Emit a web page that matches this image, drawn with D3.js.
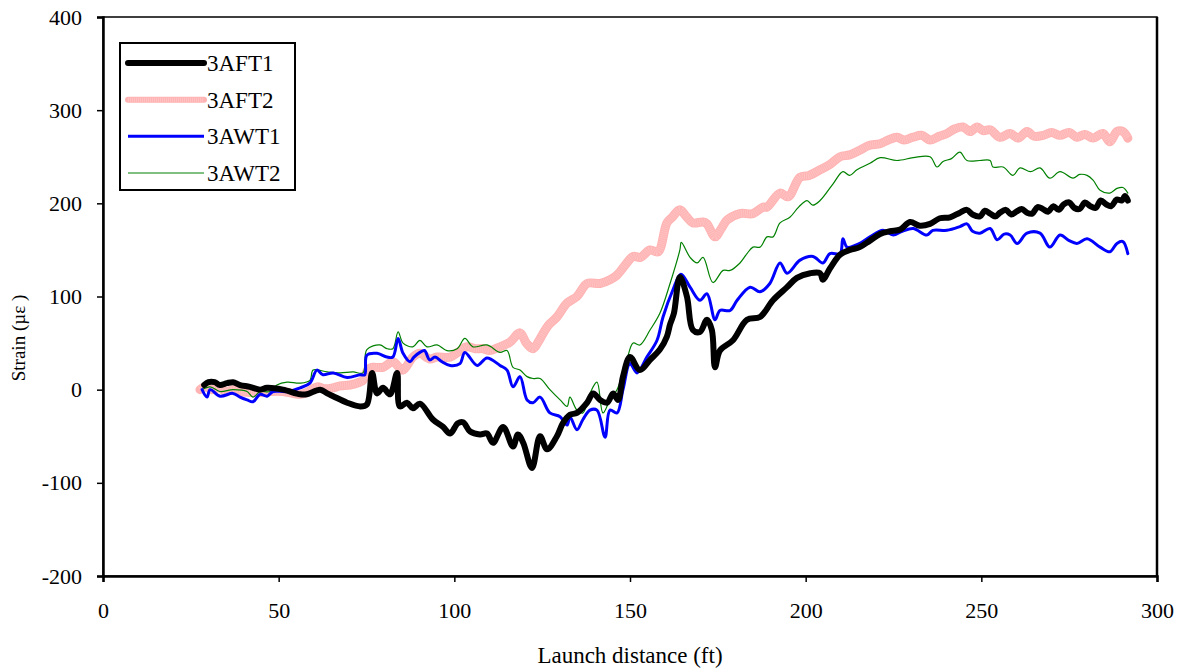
<!DOCTYPE html>
<html><head><meta charset="utf-8">
<script src="https://cdn.jsdelivr.net/npm/d3@7"></script>
<style>body{margin:0;background:#fff}svg{display:block}svg text{font-family:"Liberation Serif","Times New Roman",serif !important;fill:#000}</style>
</head><body><svg id="c" width="1184" height="670"></svg>
<script>
const xTicks=[0,50,100,150,200,250,300];
const yTicks=[-200,-100,0,100,200,300,400];
const seriesNames=["3AFT1","3AFT2","3AWT1","3AWT2"];

const aft1X=[28.8,30,31.8,33.3,35.3,37,39,41.8,44.7,46.7,51.2,56.1,58,61.8,63.8,65.5,69.5,73.2,75.1,76.6,78,79.7,81.7,83.7,84.5,86.5,88.2,90.2,93.9,96.8,98.8,101,102.5,104.5,107.3,109.3,111,113.9,116.7,118.1,119.6,122.1,124.4,126.4,129.2,130.9,132.9,134.9,137.8,139.5,141.5,143.5,145.2,146.6,148,150,152.8,155.7,158.5,160.5,161.4,162.5,164.2,166.2,167.9,169.9,171.9,173.3,174.2,175.6,179.3,183.3,187,190.7,194.7,197.5,201.3,204.1,204.9,206.9,209.8,212.6,215.4,218.3,221.2,224,226.9,229.7,232.5,235.4,238.2,241.1,243.9,245.9,247.5,249.6,251,252.5,254,255.3,257,258.5,260,261.5,263,264.5,266,267.5,269,270.5,272,273.5,275,276.5,278,279.5,281,282.5,284,285.5,287,288.5,290,290.9,291.7];
const aft1Y=[5,8,8,5,7,8,5,3,0,2,0,-5,-5,0,-4,-7,-14,-18,-16,18,-4,2,-5,18,-18,-14,-20,-15,-32,-40,-47,-36,-35,-45,-48,-47,-57,-40,-61,-48,-57,-84,-50,-64,-50,-36,-27,-25,-14,-4,-11,-14,-4,-11,14,35,21,32,43,57,70,82,121,100,64,62,75,64,24,42,53,75,78,96,110,120,125,125,118,130,145,150,153,160,167,170,172,180,176,178,184,185,190,193,188,186,192,189,186,190,193,188,191,194,190,189,196,194,191,197,193,199,201,195,194,201,197,195,203,199,197,204,203,208,203];

const aft2X=[27.6,29,31,33,35,37,39,41.8,44.7,47.5,51.2,56.1,58,60.9,63,65.5,67.5,70.3,73,74,75.5,76.5,79.7,82.5,84,85.4,88.2,90.2,93,95,98.8,101,103.6,106,108.2,110,113,115.8,118.7,120.5,122.4,124,125.2,127,129.2,132.1,134.9,137.8,141.5,144.3,146.3,149.1,150.9,153,155.7,158,160.5,162,164.2,166,167.9,170.8,171.9,174.2,176,177.6,181.3,185,187.9,189,192.7,195,198.4,201,204.1,207,209.8,212.5,215.4,218,221.2,223.5,226,228,230.6,233,235.4,238,240.2,242.5,244.8,246.8,248.8,250.5,252.5,255.3,258.2,260.5,263,265,267.6,270,272.4,275,277.2,279.5,281.8,284.6,286.6,288.6,290.3,291.7];
const aft2Y=[0,3,0,2,-2,0,-2,-3,-3,-2,-2,-5,-3,3,1,2,4,5,8,10,22,24,24,30,25,21,35,39,33,35,35,40,46,44,44,42,46,51,61,50,44,52,60,70,78,93,100,114,114,118,123,136,143,142,150,148,179,185,193,186,179,180,178,164,173,182,189,189,196,196,211,207,228,230,236,242,250,252,257,262,264,268,271,268,271,273,268,272,275,280,282,277,282,278,279,271,275,270,277,272,273,276,273,276,271,274,270,275,266,277,277,270];

const awt1X=[28.2,29.6,30.5,33.3,37,39,41,42.7,44.7,46.7,48.4,52.4,56.1,58.9,60.9,62.6,65.5,69.5,73.2,74.5,75.1,78,80.8,82.5,84,85.4,87.4,88.5,90.2,91.5,93,94.5,96.5,98.8,101.6,103,106.5,109.3,113,115,116.7,118.7,120.7,122.4,124.4,127.2,130.1,132.1,132.9,134.9,136.6,138.6,140.6,142.9,144.3,146.3,148,150,152,154.8,157.7,159.4,162.2,164.5,167.1,169.9,171.9,174.2,175.6,178.5,180.5,184.2,187,189.8,192.7,194.7,198.4,202.1,204.9,206.9,209.8,210.6,211.8,215.4,218.3,222,224.9,227.5,230.6,234.5,236.2,240.2,243.9,245.9,247.5,249.6,252.5,254.5,256.5,258.2,260.2,263,266.7,269.5,272.4,275,277.2,280.1,283.8,286.6,288.6,290.3,291.7];
const awt1Y=[0,-8,0,-7,-4,-8,-11,-13,-5,-7,-2,-2,2,7,21,16,18,13,16,16,37,39,35,35,55,39,30,35,40,42,32,35,30,26,28,40,26,34,26,21,3,14,-11,-14,-8,-25,-29,-38,-29,-43,-32,-22,-22,-51,-22,-25,0,28,18,35,53,78,107,124,110,96,103,75,85,85,96,110,105,114,136,125,139,143,136,146,146,162,153,157,164,171,166,170,173,166,171,171,175,178,170,168,173,161,167,166,157,168,168,153,166,160,157,162,153,148,157,159,146];

const awt2X=[28.2,30.5,33.3,37,41,42.7,44.7,47.5,49.5,52.4,56.1,58.9,59.8,63.8,67.5,71.2,74,75.1,78.8,80.8,82.5,84,85.4,88.2,90.2,92.2,95.1,97.9,100.8,103,105.3,109.3,113,115,116.7,118.7,120.7,122.4,124.4,127.2,130.1,132.1,132.9,134.9,136.6,138.6,140.6,142.3,144.3,146.3,149.1,150.9,152.8,155.7,158.5,161.4,164.2,164.6,167.1,169.1,170.8,173.6,176.5,178.5,181.3,183.3,185,187,189,190.7,192.7,195.5,198,200.4,202,204.1,207.8,210.6,212.5,214.6,218.3,221.2,226,230.6,235.4,237.4,239.1,241.5,243.9,245.9,249.6,252.5,253.3,256.2,259,261,264,266.7,269.5,272.4,276.1,278,280.1,281.8,283.8,286.6,288.6,290.3,291.7];
const awt2Y=[0,3,-2,0,-2,-8,-2,-2,5,8,7,10,21,19,18,19,18,43,48,44,44,62,50,46,53,46,48,42,44,55,46,48,40,42,24,21,14,12,12,0,-11,-18,-8,-22,-25,-4,8,-25,-11,0,32,50,48,64,82,114,150,158,142,136,142,115,128,128,136,146,153,153,164,164,179,185,196,203,198,203,221,234,230,236,243,249,246,249,250,239,245,248,255,246,246,246,239,239,230,238,234,238,227,234,227,231,230,225,214,211,216,217,211];

const FONT='"Liberation Serif","Times New Roman",serif';
const m={l:103,r:1157,t:17,b:576};
const svg=d3.select("#c");
const x=d3.scaleLinear().domain([0,300]).range([m.l,m.r]);
const y=d3.scaleLinear().domain([-200,400]).range([m.b,m.t]);

svg.append("rect").attr("x",m.l).attr("y",m.t).attr("width",m.r-m.l).attr("height",m.b-m.t)
  .attr("fill","none").attr("stroke","#000").attr("stroke-width",1.5);
svg.append("line").attr("x1",m.r).attr("x2",m.r).attr("y1",m.t).attr("y2",m.b).attr("stroke","#000").attr("stroke-width",2.5);

const fmt=d=>String(d);
const xa=svg.append("g").attr("transform",`translate(0,${m.b})`)
  .call(d3.axisBottom(x).tickValues(xTicks).tickSize(6).tickPadding(20).tickFormat(fmt));
const ya=svg.append("g").attr("transform",`translate(${m.l},0)`)
  .call(d3.axisLeft(y).tickValues(yTicks).tickSize(6).tickPadding(15).tickFormat(fmt));
[xa,ya].forEach(a=>{
  a.attr("font-family",null);
  a.select(".domain").attr("stroke","#000").attr("stroke-width",2.5);
  a.selectAll(".tick line").attr("stroke","#000").attr("stroke-width",1.5);
  a.selectAll("text").attr("font-size",22).style("font-family",FONT);
});

const line=d3.line().x(d=>x(d[0])).y(d=>y(d[1])).curve(d3.curveCatmullRom.alpha(0.5));
const zip=(a,b)=>a.map((v,i)=>[v,b[i]]);
const series=[
  {name:seriesNames[1],data:zip(aft2X,aft2Y),color:"#ffb3b3",w:9,texture:true},
  {name:seriesNames[3],data:zip(awt2X,awt2Y),color:"#008000",w:1.2},
  {name:seriesNames[2],data:zip(awt1X,awt1Y),color:"#0000ff",w:3},
  {name:seriesNames[0],data:zip(aft1X,aft1Y),color:"#000000",w:6},
];
const gp=svg.append("g");
series.forEach(s=>{
  gp.append("path").datum(s.data).attr("d",line).attr("fill","none")
    .attr("stroke",s.color).attr("stroke-width",s.w).attr("stroke-linejoin","round").attr("stroke-linecap","round");
  if(s.texture){
    gp.append("path").datum(s.data).attr("d",line).attr("fill","none")
      .attr("stroke","#ffc2c2").attr("stroke-width",s.w-2).attr("stroke-dasharray","1,1").attr("stroke-linejoin","round");
  }
});

const lg=svg.append("g");
lg.append("rect").attr("x",120).attr("y",43).attr("width",175).attr("height",147).attr("fill","#fff").attr("stroke","#000").attr("stroke-width",2);
const legendOrder=[
  {name:seriesNames[0],color:"#000",w:6},
  {name:seriesNames[1],color:"#ffb3b3",w:6,texture:true},
  {name:seriesNames[2],color:"#0000ff",w:3},
  {name:seriesNames[3],color:"#008000",w:1.2},
];
const ly=d3.scalePoint().domain(legendOrder.map(d=>d.name)).range([63,173]);
legendOrder.forEach(d=>{
  lg.append("line").attr("x1",128).attr("x2",204).attr("y1",ly(d.name)).attr("y2",ly(d.name))
    .attr("stroke",d.color).attr("stroke-width",d.w).attr("stroke-linecap",d.w>=5?"round":"butt");
  if(d.texture) lg.append("line").attr("x1",128).attr("x2",204).attr("y1",ly(d.name)).attr("y2",ly(d.name))
    .attr("stroke","#ffc2c2").attr("stroke-width",d.w-2).attr("stroke-dasharray","1,1");
  lg.append("text").attr("x",207).attr("y",ly(d.name)).attr("dy","0.35em").attr("font-size",23).style("font-family",FONT).text(d.name);
});

svg.append("text").attr("x",630).attr("y",663).attr("text-anchor","middle").attr("font-size",23).style("font-family",FONT).text("Launch distance (ft)");
svg.append("text").attr("transform","translate(25,338) rotate(-90)").attr("text-anchor","middle").attr("font-size",19).style("font-family",FONT).text("Strain (µε )");
</script></body></html>
